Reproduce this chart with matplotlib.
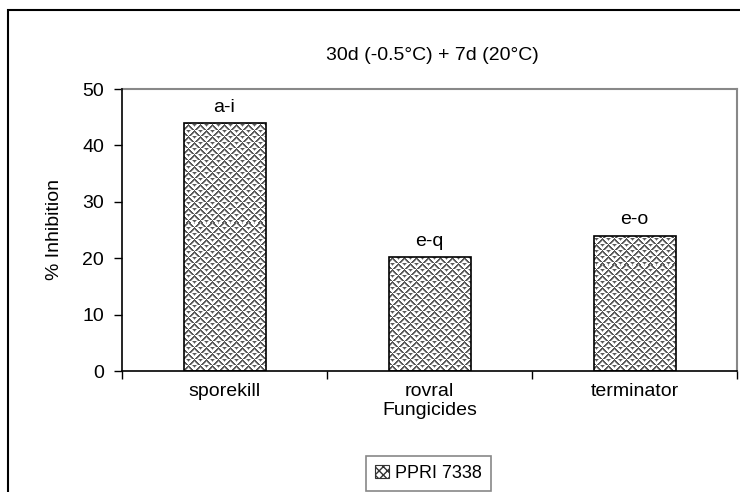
import numpy as np
import matplotlib.pyplot as plt
from matplotlib.patches import Rectangle, Patch

plt.rcParams['font.family'] = ['Liberation Sans', 'DejaVu Sans']
plt.rcParams['hatch.linewidth'] = 1.0
plt.rcParams['hatch.color'] = '#555555'

fungicides = ['sporekill', 'rovral', 'terminator']
inhibition = [44.0, 20.2, 24.0]
letters = ['a-i', 'e-q', 'e-o']
series_name = 'PPRI 7338'
title = '30d (-0.5\u00b0C) + 7d (20\u00b0C)'

W, H = 740, 492
fig = plt.figure(figsize=(W / 100, H / 100), dpi=100)
ax_l, ax_r, ax_t, ax_b = 122, 737, 89, 371
ax = fig.add_axes([ax_l / W, 1 - ax_b / H, (ax_r - ax_l) / W, (ax_b - ax_t) / H])

x = np.arange(len(fungicides))
bars = ax.bar(x, inhibition, width=0.4, facecolor='none', edgecolor='black',
              linewidth=1.2, zorder=3)

# weave-like texture, clipped to each bar (pixel aligned)
ph, pw = ax_b - ax_t, ax_r - ax_l
ii, jj = np.mgrid[0:ph, 0:pw]
blk = ((ii // 6) + (jj // 6)) % 2
d = np.where(blk == 0, (ii + jj) % 6, (ii - jj) % 6)
tex = np.where(d < 2, 0.35, 1.0)
tex = np.where(d == 2, 0.7, tex)
for b in bars:
    im = ax.imshow(tex, cmap='gray', vmin=0, vmax=1, extent=(-0.5, 2.5, 0, 50),
                   aspect='auto', interpolation='nearest', zorder=2)
    im.set_clip_path(b)

ax.set_xlim(-0.5, len(fungicides) - 0.5)
ax.set_ylim(0, 50)

for xi, v, t in zip(x, inhibition, letters):
    ax.text(xi, v + 1.3, t, ha='center', va='bottom', fontsize=14)

ax.set_yticks(range(0, 51, 10))
ax.set_xticks(x)
ax.set_xticklabels(fungicides, fontsize=14)
ax.set_xticks(np.arange(-0.5, len(fungicides), 1.0), minor=True)
ax.tick_params(axis='x', which='major', length=0, pad=9)
ax.tick_params(axis='x', which='minor', length=6, width=1, direction='out')
ax.tick_params(axis='y', labelsize=14, length=6, width=1, direction='out', pad=7)

for side in ['top', 'right']:
    ax.spines[side].set_color('#888888')
    ax.spines[side].set_linewidth(1.5)
for side in ['left', 'bottom']:
    ax.spines[side].set_color('black')
    ax.spines[side].set_linewidth(1.2)
    ax.spines[side].set_zorder(4)

ax.set_xlabel('Fungicides', fontsize=14, labelpad=1)
ax.set_ylabel('% Inhibition', fontsize=14, labelpad=14)
fig.text(432 / W, 1 - 55 / H, title, ha='center', va='center', fontsize=14)

# outer chart frame
fig.patches.append(Rectangle((8 / W, -0.1), 1.2, 1.1 - 10 / H, transform=fig.transFigure,
                             fill=False, edgecolor='black', linewidth=1.5))

handle = Patch(facecolor='white', edgecolor='#333333', hatch='xxxx', linewidth=0.8)
leg = fig.legend(handles=[handle], labels=[series_name], loc='upper left',
                 bbox_to_anchor=(366 / W, 1 - 456 / H),
                 fontsize=13, fancybox=False, edgecolor='#888888', framealpha=1,
                 handlelength=0.75, handleheight=0.75, handletextpad=0.35,
                 borderpad=0.5, borderaxespad=0)
leg.get_frame().set_linewidth(1.2)

fig.savefig('out.png', dpi=100)
